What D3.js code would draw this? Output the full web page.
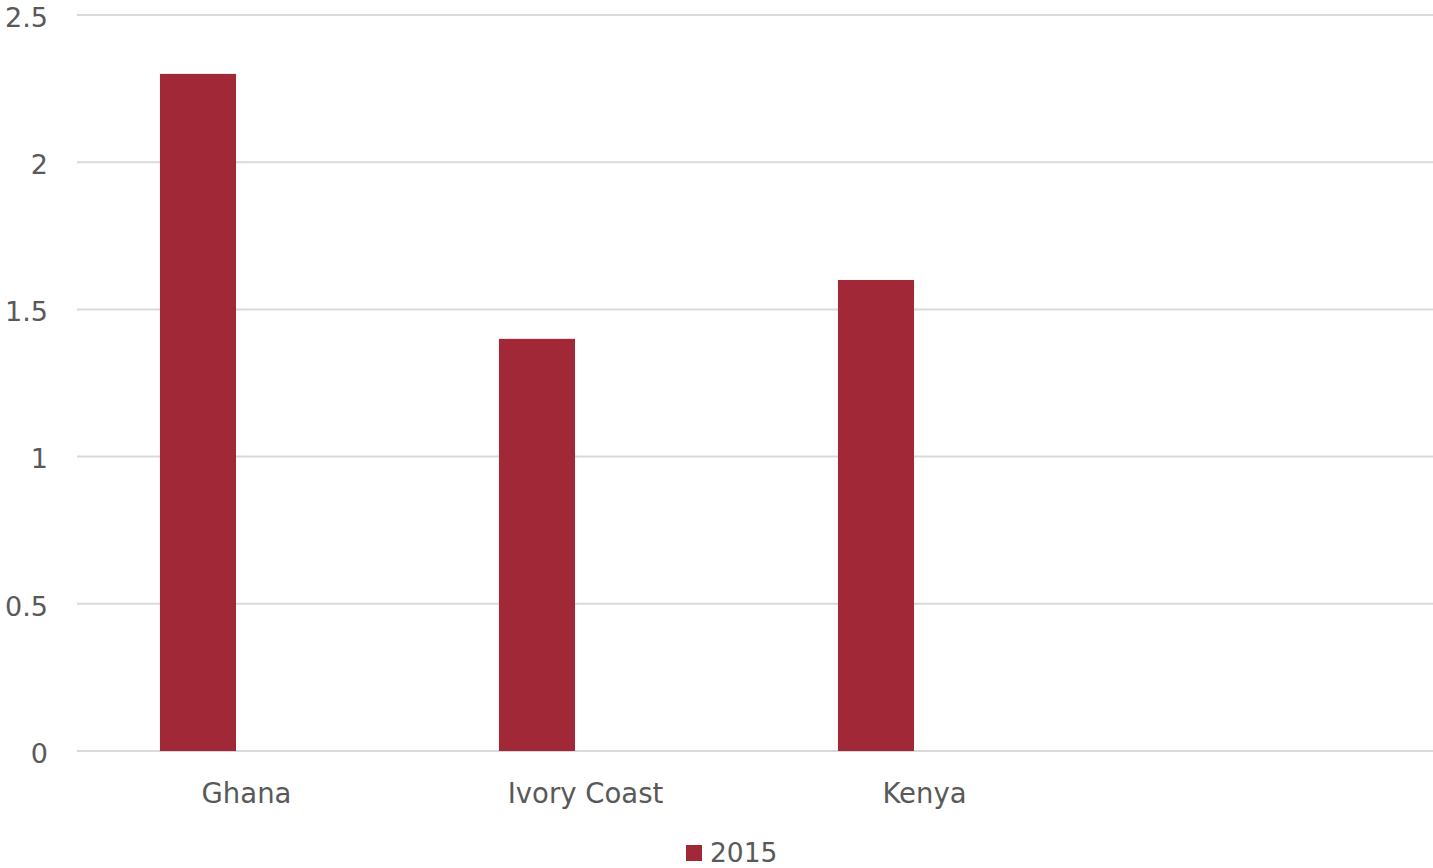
<!DOCTYPE html>
<html>
<head>
<meta charset="utf-8">
<script src="https://cdn.jsdelivr.net/npm/d3@7"></script>
<style>
  body { margin: 0; background: #fff; }
  svg { display: block; }
  text { font-family: Tahoma, "DejaVu Sans", sans-serif; fill: #595959; }
</style>
</head>
<body>
<svg id="chart" width="1433" height="868"></svg>
<script>
const categories = ["Ghana", "Ivory Coast", "Kenya", ""];
const seriesNames = ["2015"];
const values2015 = [2.3, 1.4, 1.6, null];
const slots = ["2015", "(blank)"];
const yTicks = [0, 0.5, 1, 1.5, 2, 2.5];
const yTickLabels = ["0", "0.5", "1", "1.5", "2", "2.5"];
const barColor = "#A12837";

(function () {
const svg = d3.select("#chart");
const pL = 77, pR = 1433, pT = 15, pB = 751;
const fontFam = "Tahoma, 'DejaVu Sans', sans-serif";

const x = d3.scaleBand().domain(categories).range([pL, pR]).padding(0);
const inner = d3.scaleBand().domain(slots).range([0, x.bandwidth()])
  .paddingInner(0.216).paddingOuter(0.855);
const y = d3.scaleLinear().domain([0, 2.5]).range([pB, pT]);

// gridlines
svg.append("g").selectAll("line").data(yTicks).join("line")
  .attr("x1", pL).attr("x2", pR)
  .attr("y1", d => y(d)).attr("y2", d => y(d))
  .attr("stroke", "#d9d9d9").attr("stroke-width", 2);

// y axis labels
const yAxis = d3.axisLeft(y).tickValues(yTicks)
  .tickFormat((d, i) => yTickLabels[i]).tickSize(0).tickPadding(0);
const gy = svg.append("g").attr("transform", `translate(48,0)`).call(yAxis);
gy.select(".domain").remove();
gy.selectAll("text").attr("font-size", 27).attr("dy", "0.42em").style("font-family", fontFam).attr("fill", "#595959");

// bars
const data = categories.map((c, i) => ({ c, v: values2015[i] })).filter(d => d.v != null);
svg.append("g").selectAll("rect").data(data).join("rect")
  .attr("x", d => x(d.c) + inner("2015"))
  .attr("width", inner.bandwidth())
  .attr("y", d => y(d.v))
  .attr("height", d => y(0) - y(d.v))
  .attr("fill", barColor);

// x axis labels
const xAxis = d3.axisBottom(x).tickSize(0).tickPadding(0);
const gx = svg.append("g").attr("transform", `translate(0,803)`).call(xAxis);
gx.select(".domain").remove();
gx.selectAll("text").attr("font-size", 27.5).attr("y", 0).attr("dy", 0).style("font-family", fontFam).attr("fill", "#595959");

// legend
const lg = svg.append("g").attr("transform", "translate(686,845)");
lg.append("rect").attr("width", 16).attr("height", 16).attr("fill", barColor);
lg.append("text").attr("x", 24).attr("y", 17).attr("font-size", 26.5).text(seriesNames[0]);
})();
</script>
</body>
</html>
